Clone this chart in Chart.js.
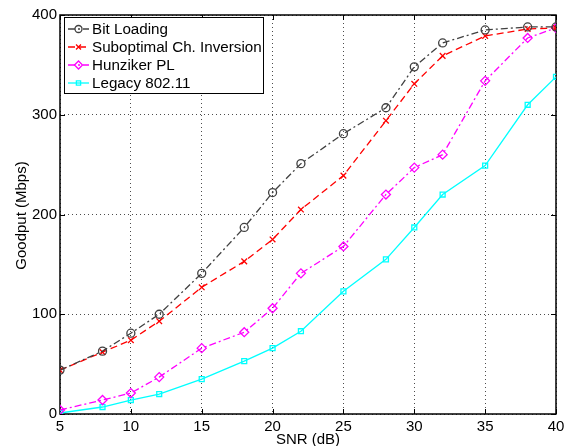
<!DOCTYPE html>
<html>
<head>
<meta charset="utf-8">
<script src="https://cdn.jsdelivr.net/npm/chart.js@4.4.1/dist/chart.umd.min.js"></script>
<style>
  html, body { margin: 0; padding: 0; background: #fff; }
  #wrap { width: 569px; height: 446px; }
</style>
</head>
<body>
<div id="wrap"><canvas id="goodputChart"></canvas></div>
<script>
// SNR (dB) sample points
var snr = [5, 8, 10, 12, 15, 18, 20, 22, 25, 28, 30, 32, 35, 38, 40];
// goodput per scheme (Mbps)
var bitLoading = [44, 63, 81, 100, 141, 187, 222, 251, 281, 307, 348, 372, 385, 388, 388];
var suboptimal = [44, 62, 74, 93, 127, 153, 175, 205, 239, 294, 331, 359, 379, 386, 387];
var hunziker   = [4, 14, 21, 37, 66, 82, 106, 141, 168, 220, 247, 260, 334, 377, 387];
var legacy     = [1, 7, 14, 20, 35, 53, 66, 83, 123, 155, 187, 220, 249, 310, 338];
// axis ticks
var xTicks = [5, 10, 15, 20, 25, 30, 35, 40];
var yTicks = [0, 100, 200, 300, 400];

var FONT = '"Liberation Sans", Arial, Helvetica, sans-serif';

function toPoints(vals) {
    return snr.map(function(x, i) { return { x: x, y: vals[i] }; });
}

function series(label, vals, color, dash, style, radius) {
    return {
        label: label,
        data: toPoints(vals),
        borderColor: color,
        borderWidth: 1.3,
        borderDash: dash,
        backgroundColor: 'rgba(0,0,0,0)',
        pointStyle: style,
        pointRadius: radius,
        pointBorderColor: color,
        pointBackgroundColor: 'rgba(0,0,0,0)',
        pointBorderWidth: 1.3,
        tension: 0
    };
}

// box, inward ticks and axis titles (matlab look)
var frame = {
    id: 'frame',
    beforeDatasetsDraw: function(chart) {
        var a = chart.chartArea, ctx = chart.ctx;
        var xs = chart.scales.x, ys = chart.scales.y;
        ctx.save();
        ctx.strokeStyle = '#000';
        ctx.lineWidth = 1.5;
        ctx.strokeRect(a.left, a.top, a.right - a.left, a.bottom - a.top);
        ctx.lineWidth = 1;
        ctx.beginPath();
        xs.ticks.forEach(function(t) {
            var px = Math.round(xs.getPixelForValue(t.value)) + 0.5;
            ctx.moveTo(px, a.bottom); ctx.lineTo(px, a.bottom - 5);
            ctx.moveTo(px, a.top); ctx.lineTo(px, a.top + 5);
        });
        ys.ticks.forEach(function(t) {
            var py = Math.round(ys.getPixelForValue(t.value)) + 0.5;
            ctx.moveTo(a.left, py); ctx.lineTo(a.left + 5, py);
            ctx.moveTo(a.right, py); ctx.lineTo(a.right - 5, py);
        });
        ctx.stroke();

        ctx.fillStyle = '#000';
        ctx.font = '15px ' + FONT;
        ctx.textAlign = 'center';
        ctx.textBaseline = 'top';
        ctx.fillText('SNR (dB)', (a.left + a.right) / 2, a.bottom + 18);
        ctx.translate(21.5, (a.top + a.bottom) / 2 + 1);
        ctx.rotate(-Math.PI / 2);
        ctx.textBaseline = 'middle';
        ctx.fillText('Goodput (Mbps)', 0, 0);
        ctx.restore();
    },
    afterDraw: function(chart) {
        var a = chart.chartArea, ctx = chart.ctx;
        var lx = a.left + 4, ly = a.top + 2, w = 199, h = 76;
        ctx.save();
        ctx.fillStyle = '#fff';
        ctx.fillRect(lx, ly, w, h);
        ctx.strokeStyle = '#000';
        ctx.lineWidth = 1;
        ctx.strokeRect(lx + 0.5, ly + 0.5, w, h);
        chart.data.datasets.forEach(function(ds, i) {
            var y = ly + 12 + i * 18;
            ctx.strokeStyle = ds.borderColor;
            ctx.lineWidth = ds.borderWidth;
            ctx.setLineDash(ds.borderDash || []);
            ctx.beginPath();
            ctx.moveTo(lx + 4, y);
            ctx.lineTo(lx + 25, y);
            ctx.stroke();
            ctx.setLineDash([]);
            ctx.fillStyle = 'rgba(0,0,0,0)';
            Chart.helpers.drawPoint(ctx, {
                pointStyle: ds.pointStyle,
                radius: ds.pointRadius - 0.5,
                rotation: 0,
                borderWidth: ds.pointBorderWidth
            }, lx + 14.5, y);
            ctx.fillStyle = '#000';
            ctx.font = '15.2px ' + FONT;
            ctx.textAlign = 'left';
            ctx.textBaseline = 'middle';
            ctx.fillText(ds.label, lx + 28, y + 1);
        });
        ctx.restore();
    }
};

Chart.defaults.color = '#000';
Chart.defaults.font.family = FONT;
Chart.defaults.font.size = 15;

new Chart(document.getElementById('goodputChart'), {
    type: 'line',
    data: {
        datasets: [
            series('Bit Loading', bitLoading, '#404040', [7, 3, 2, 3], 'circle', 4),
            series('Suboptimal Ch. Inversion', suboptimal, '#ff0000', [7, 4], 'crossRot', 4),
            series('Hunziker PL', hunziker, '#ff00ff', [7, 3, 2, 3], 'rectRot', 4.5),
            series('Legacy 802.11', legacy, '#00ffff', [], 'rect', 3.5)
        ]
    },
    options: {
        responsive: true,
        maintainAspectRatio: false,
        animation: false,
        devicePixelRatio: 1,
        layout: { padding: { left: 0, top: 15, right: 13, bottom: 0 } },
        scales: {
            x: {
                type: 'linear',
                min: 5,
                max: 40,
                afterBuildTicks: function(scale) {
                    scale.ticks = xTicks.map(function(v) { return { value: v }; });
                },
                afterFit: function(scale) { scale.height = 32; },
                ticks: { padding: 4, maxRotation: 0, autoSkip: false },
                grid: { color: 'rgba(0,0,0,0.7)', lineWidth: 1, drawTicks: false },
                border: { display: false, dash: [1, 3] }
            },
            y: {
                min: 0,
                max: 400,
                afterBuildTicks: function(scale) {
                    scale.ticks = yTicks.map(function(v) { return { value: v }; });
                },
                afterFit: function(scale) { scale.width = 60; },
                ticks: { padding: 3 },
                grid: { color: 'rgba(0,0,0,0.7)', lineWidth: 1, drawTicks: false },
                border: { display: false, dash: [1, 3] }
            }
        },
        plugins: {
            legend: { display: false },
            tooltip: { enabled: false }
        }
    },
    plugins: [frame]
});
</script>
</body>
</html>
